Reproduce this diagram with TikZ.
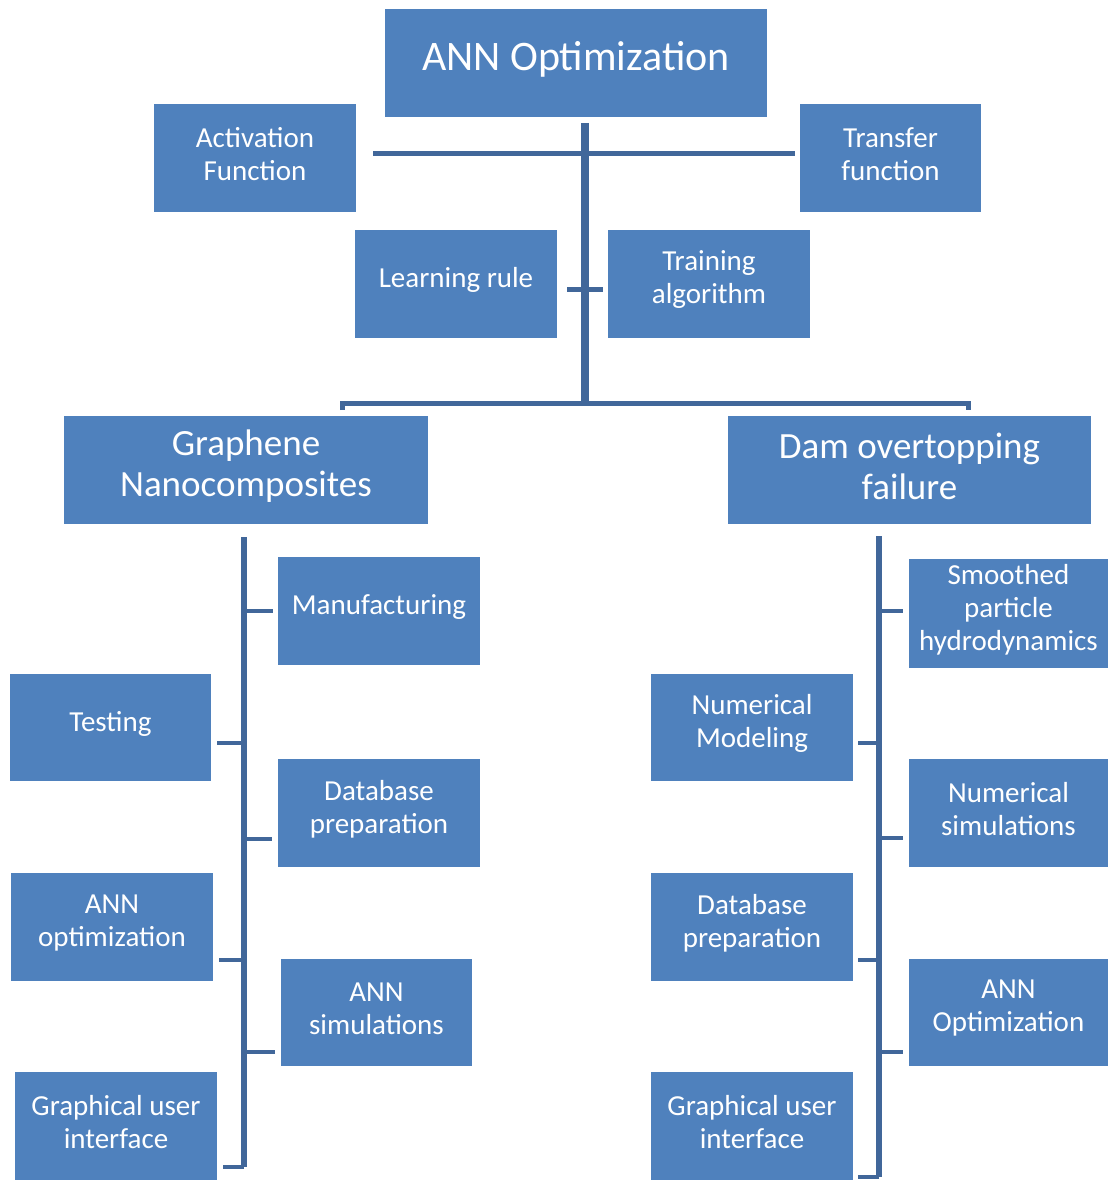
\documentclass[tikz,border=0pt]{standalone}
\usepackage{fontspec}
\setmainfont{Carlito}
\definecolor{boxblue}{HTML}{4F81BD}
\definecolor{linkblue}{HTML}{41679A}
\begin{document}
\begin{tikzpicture}[x=1pt,y=-1pt,
  box/.style={fill=boxblue, draw=none, inner sep=0pt},
  lbl/.style={text=white, align=center, yshift=4pt, font=\fontsize{29}{33}\selectfont},
  big/.style={text=white, align=center, yshift=4pt, font=\fontsize{37}{41}\selectfont},
  huge/.style={text=white, align=center, yshift=4pt, font=\fontsize{42}{46}\selectfont},
  trunk/.style={draw=linkblue, line width=8pt},
  bar/.style={draw=linkblue, line width=5pt},
  stem/.style={draw=linkblue, line width=6.5pt},
  twig/.style={draw=linkblue, line width=4.5pt}]
\useasboundingbox (0,0) rectangle (1108,1180);

% top level
\node[box, minimum width=382pt, minimum height=108pt, label={[huge]center:ANN Optimization}] (ann) at (576,63) {};
\node[box, minimum width=202pt, minimum height=108pt, label={[lbl]center:{Activation\\Function}}] (act) at (255,158) {};
\node[box, minimum width=181pt, minimum height=108pt, label={[lbl]center:{Transfer\\function}}] (tra) at (890.5,158) {};
\node[box, minimum width=202pt, minimum height=108pt, label={[lbl]center:{Learning rule}}] (lea) at (456,284) {};
\node[box, minimum width=202pt, minimum height=108pt, label={[lbl]center:{Training\\algorithm}}] (trn) at (709,284) {};
\node[box, minimum width=364pt, minimum height=108pt, label={[big]center:{Graphene\\Nanocomposites}}] (gra) at (246,470) {};
\node[box, minimum width=363pt, minimum height=108pt, label={[big]center:{Dam overtopping\\failure}}] (dam) at (909.5,470) {};

% left branch
\node[box, minimum width=202pt, minimum height=108pt, label={[lbl]center:{Manufacturing}}] (man) at (379,611) {};
\node[box, minimum width=201pt, minimum height=107pt, label={[lbl]center:{Testing}}] (tes) at (110.5,727.5) {};
\node[box, minimum width=202pt, minimum height=108pt, label={[lbl]center:{Database\\preparation}}] (dbl) at (379,813) {};
\node[box, minimum width=202pt, minimum height=108pt, label={[lbl]center:{ANN\\optimization}}] (aol) at (112,927) {};
\node[box, minimum width=191pt, minimum height=107pt, label={[lbl]center:{ANN\\simulations}}] (asi) at (376.5,1012.5) {};
\node[box, minimum width=202pt, minimum height=108pt, label={[lbl]center:{Graphical user\\interface}}] (gul) at (116,1126) {};

% right branch
\node[box, minimum width=199pt, minimum height=109pt, label={[lbl]center:{Smoothed\\particle\\hydrodynamics}}] (sph) at (1008.5,613.5) {};
\node[box, minimum width=202pt, minimum height=107pt, label={[lbl]center:{Numerical\\Modeling}}] (num) at (752,727.5) {};
\node[box, minimum width=199pt, minimum height=108pt, label={[lbl]center:{Numerical\\simulations}}] (nsi) at (1008.5,813) {};
\node[box, minimum width=202pt, minimum height=108pt, label={[lbl]center:{Database\\preparation}}] (dbr) at (752,927) {};
\node[box, minimum width=199pt, minimum height=107pt, label={[lbl]center:{ANN\\Optimization}}] (aor) at (1008.5,1012.5) {};
\node[box, minimum width=202pt, minimum height=108pt, label={[lbl]center:{Graphical user\\interface}}] (gur) at (752,1126) {};

% top connectors
\coordinate (tkTop) at (585,123);
\coordinate (tkBot) at (585,403);
\draw[trunk] (tkTop) -- (tkBot);
\draw[bar] ([xshift=17pt,yshift=5pt]act.east) -- ([xshift=-5pt,yshift=5pt]tra.west);
\draw[bar] ([xshift=10pt,yshift=-5pt]lea.east) -- ([xshift=-5pt,yshift=-5pt]trn.west);
\coordinate (gL) at (342,403);
\coordinate (gR) at (968,403);
\draw[bar] ([yshift=-7pt]gL) -- (gL) -- (gR) -- ([yshift=-7pt]gR);

% left tree
\coordinate (lTop) at (244,537);
\coordinate (lBot) at (244,1167);
\draw[stem] (lTop) -- (lBot);
\draw[twig] (lBot) -- ([xshift=6pt]gul.east |- lBot);
\draw[twig] (lTop |- man.west) -- ([xshift=-5pt]man.west);
\draw[twig] (lTop |- 0,743) -- (217,743);
\draw[twig] (lTop |- 0,839) -- ([xshift=-6pt]dbl.west |- 0,839);
\draw[twig] (lTop |- 0,960) -- (219,960);
\draw[twig] (lTop |- 0,1052) -- ([xshift=-6pt]asi.west |- 0,1052);

% right tree
\coordinate (rTop) at (879,536);
\coordinate (rBot) at (879,1177);
\draw[stem] (rTop) -- (rBot);
\draw[twig] (rBot) -- ([xshift=5pt]gur.east |- rBot);
\draw[twig] (rTop |- 0,611) -- ([xshift=-6pt]sph.west |- 0,611);
\draw[twig] (rTop |- 0,743) -- ([xshift=5pt]num.east |- 0,743);
\draw[twig] (rTop |- 0,838) -- ([xshift=-6pt]nsi.west |- 0,838);
\draw[twig] (rTop |- 0,960) -- ([xshift=5pt]dbr.east |- 0,960);
\draw[twig] (rTop |- 0,1052) -- ([xshift=-6pt]aor.west |- 0,1052);
\end{tikzpicture}
\end{document}
